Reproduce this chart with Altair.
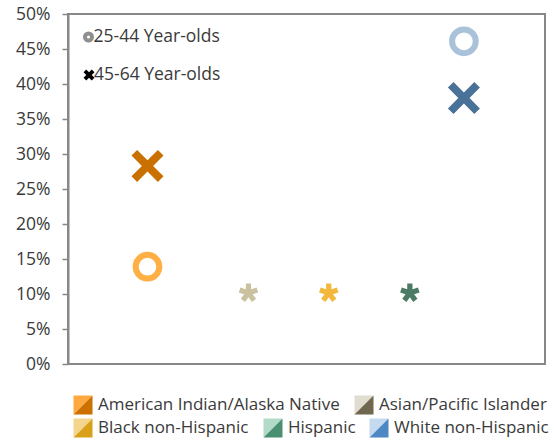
import math
import altair as alt
import pandas as pd

# ---- data -------------------------------------------------------------
groups = [
    "American Indian/Alaska Native",
    "Asian/Pacific Islander",
    "Black non-Hispanic",
    "Hispanic",
    "White non-Hispanic",
]
x_pos = [1.0, 2.27, 3.28, 4.3, 4.98]
age_25_44 = [0.139, None, None, None, 0.461]   # share, 25-44 year-olds
age_45_64 = [0.283, None, None, None, 0.380]   # share, 45-64 year-olds
flagged = [None, 0.103, 0.103, 0.103, None]    # values shown with an asterisk

y_ticks = [0, 0.05, 0.10, 0.15, 0.20, 0.25, 0.30, 0.35, 0.40, 0.45, 0.50]
age_labels = ["25-44 Year-olds", "45-64 Year-olds"]

# ---- styles -----------------------------------------------------------
color_25_44 = ["#FFAF43", None, None, None, "#A9C1D9"]
color_45_64 = ["#C97000", None, None, None, "#4A7198"]
color_flag = [None, "#C9C1A0", "#F2B83E", "#4B7B62", None]
swatch_light = ["#FFA940", "#E0DCD0", "#F3D58D", "#B3D9C8", "#C5DAF0"]
swatch_dark = ["#CC7000", "#70674F", "#D9A11A", "#4A9070", "#4D88C4"]
TEXT = "#3A3A3A"
FRAME = "#878787"
FONT = "Open Sans"

W, H = 477, 350

# ---- marker shapes (unit box -1..1) ----------------------------------
X_PATH = ("M-1,-0.65 L-0.65,-1 L0,-0.35 L0.65,-1 L1,-0.65 L0.35,0 "
          "L1,0.65 L0.65,1 L0,0.35 L-0.65,1 L-1,0.65 L-0.35,0 Z")
X_BOLD = ("M-1,-0.5 L-0.5,-1 L0,-0.5 L0.5,-1 L1,-0.5 L0.5,0 "
          "L1,0.5 L0.5,1 L0,0.5 L-0.5,1 L-1,0.5 L-0.5,0 Z")


def asterisk_path(arms=5, half_w=0.28, back=0.2, shift=0.1):
    parts = []
    for k in range(arms):
        t = 2 * math.pi * k / arms
        dx, dy = math.sin(t), -math.cos(t)
        px, py = math.cos(t), math.sin(t)
        pts = [
            (-back * dx - half_w * px, -back * dy - half_w * py + shift),
            (dx - half_w * px, dy - half_w * py + shift),
            (dx + half_w * px, dy + half_w * py + shift),
            (-back * dx + half_w * px, -back * dy + half_w * py + shift),
        ]
        parts.append("M" + " L".join(f"{a:.3f},{b:.3f}" for a, b in pts) + " Z")
    return " ".join(parts)


AST_PATH = asterisk_path()
TL_PATH = "M-1,-1 L1,-1 L-1,1 Z"
BR_PATH = "M1,-1 L1,1 L-1,1 Z"

# ---- tables -----------------------------------------------------------
young = pd.DataFrame({"group": groups, "x": x_pos, "v": age_25_44, "c": color_25_44}).dropna()
older = pd.DataFrame({"group": groups, "x": x_pos, "v": age_45_64, "c": color_45_64}).dropna()
flag = pd.DataFrame({"group": groups, "x": x_pos, "v": flagged, "c": color_flag}).dropna()

x_enc = alt.X("x:Q", scale=alt.Scale(domain=[0, 6]), axis=None)
y_enc = alt.Y(
    "v:Q",
    scale=alt.Scale(domain=[0, 0.5], nice=False),
    axis=alt.Axis(values=y_ticks, format=".0%", title=None, grid=False),
)

circles = alt.Chart(young).mark_point(
    shape="circle", filled=False, strokeWidth=6, size=560, opacity=1
).encode(x=x_enc, y=y_enc, color=alt.Color("c:N", scale=None))

crosses = alt.Chart(older).mark_point(
    shape=X_PATH, filled=True, size=1024, opacity=1, strokeWidth=0
).encode(x=x_enc, y=y_enc, color=alt.Color("c:N", scale=None))

stars = alt.Chart(flag).mark_point(
    shape=AST_PATH, filled=True, size=350, opacity=1, strokeWidth=0
).encode(x=x_enc, y=y_enc, color=alt.Color("c:N", scale=None))

# ---- legends (pixel layout, identity scales) ---------------------------
px = alt.X("px:Q", scale=None, axis=None)
py = alt.Y("py:Q", scale=None, axis=None)

age_key = pd.DataFrame({
    "label": age_labels,
    "px": [20.5, 21],
    "py": [23, 61],
    "tx": [25.5, 26],
})
key_circle = alt.Chart(age_key.iloc[[0]]).mark_point(
    shape="circle", filled=False, strokeWidth=4, size=50, color="#8F8F8F", opacity=1,
    fill="white", fillOpacity=1,
).encode(x=px, y=py)
key_cross = alt.Chart(age_key.iloc[[1]]).mark_point(
    shape=X_BOLD, filled=True, size=120, color="black", opacity=1, strokeWidth=0
).encode(x=px, y=py)
key_text = alt.Chart(age_key).mark_text(
    align="left", baseline="middle", font=FONT, fontSize=17.5, color=TEXT
).encode(x=alt.X("tx:Q", scale=None, axis=None), y=py, text="label:N")

grp_key = pd.DataFrame({
    "label": groups,
    "px": [15, 296, 15, 205, 311],
    "py": [391, 391, 414, 414, 414],
    "light": swatch_light,
    "dark": swatch_dark,
})
grp_key["tx"] = grp_key["px"] + 15

sw_light = alt.Chart(grp_key).mark_point(
    shape=TL_PATH, filled=True, size=361, opacity=1, strokeWidth=0
).encode(x=px, y=py, color=alt.Color("light:N", scale=None))
sw_dark = alt.Chart(grp_key).mark_point(
    shape=BR_PATH, filled=True, size=361, opacity=1, strokeWidth=0
).encode(x=px, y=py, color=alt.Color("dark:N", scale=None))
grp_text = alt.Chart(grp_key).mark_text(
    align="left", baseline="middle", font=FONT, fontSize=17, color=TEXT
).encode(x=alt.X("tx:Q", scale=None, axis=None), y=py, text="label:N")

chart = (
    alt.layer(circles, crosses, stars, key_circle, key_cross, key_text,
              sw_light, sw_dark, grp_text)
    .properties(
        width=W,
        height=H,
        autosize=alt.AutoSizeParams(type="none"),
        padding={"left": 68, "top": 14, "right": 9, "bottom": 79},
    )
    .configure_view(stroke=FRAME, strokeWidth=2)
    .configure_axis(
        domainColor=FRAME,
        domainWidth=2,
        tickColor=FRAME,
        tickWidth=1.5,
        tickSize=6,
        labelFont=FONT,
        labelFontSize=17.5,
        labelColor=TEXT,
        labelPadding=12,
    )
)

chart.save("out.html", embed_options={"renderer": "svg", "actions": False})
